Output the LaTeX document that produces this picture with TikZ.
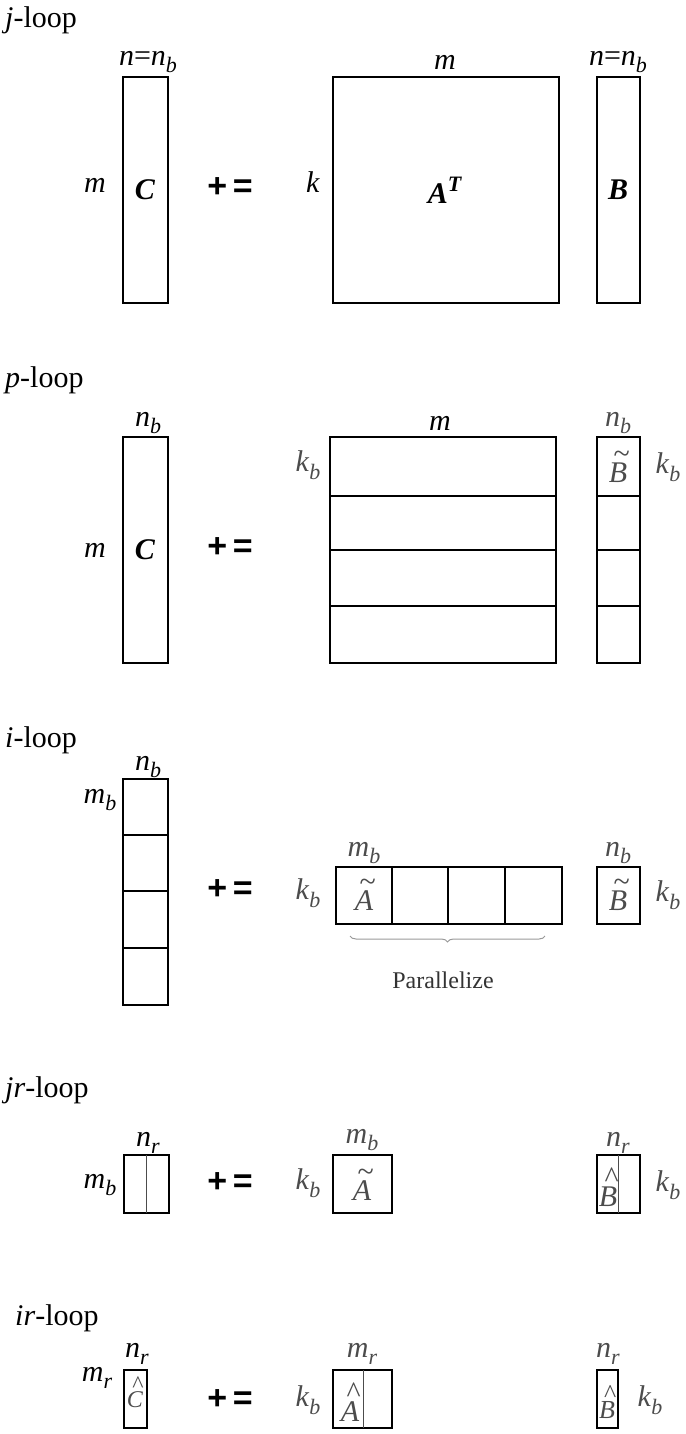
\documentclass[tikz,border=0pt]{standalone}
\usepackage{fontspec}
\setmainfont{Liberation Serif}
\newfontfamily\opfont{Liberation Sans}
\usetikzlibrary{decorations.pathreplacing}
\newcommand{\sbt}[2]{\textit{#1}\raisebox{-0.25em}{\fontsize{22}{22}\selectfont\textit{#2}}}
\newcommand{\myacc}[2]{\ooalign{\hidewidth\kern0.25em\raisebox{0.62em}{#1}\hidewidth\cr\textit{#2}\cr}}
\newcommand{\mytl}[1]{\myacc{\textasciitilde}{#1}}
\newcommand{\myhat}[1]{\myacc{\textasciicircum}{#1}}
\begin{document}
\begin{tikzpicture}[x=1pt,y=-1pt,
  box/.style={draw=black,line width=2pt,inner sep=0pt},
  thin/.style={draw=black!70,line width=0.8pt},
  lbl/.style={font=\fontsize{30}{34}\selectfont,inner sep=0pt},
  glbl/.style={lbl,text=black!70},
  ttl/.style={lbl,anchor=west},
  op/.style={font=\fontsize{34}{36}\selectfont\opfont\bfseries,inner sep=0pt}]
\useasboundingbox (0,0) rectangle (685,1434);
% j-loop
\node[ttl] (t1) at (5,20) {\textit{j}-loop};
\draw[box] (123,77) rectangle (168,303);
\node[lbl] (l1) at (148,62) {\textit{n}=\sbt{n}{b}};
\node[lbl] (l2) at (95,185) {\textit{m}};
\node[lbl] (c1) at (145,190) {\textbf{\textit{C}}};
\node[op] (o1) at (230,188) {+\,=};
\node[lbl] (l3) at (313,182) {\textit{k}};
\draw[box] (333,77) rectangle (559,303);
\node[lbl] (l4) at (445,62) {\textit{m}};
\node[lbl] (a1) at (445,190) {\textbf{\textit{A}}\raisebox{0.4em}{\fontsize{22}{22}\selectfont\textbf{\textit{T}}}};
\draw[box] (597,77) rectangle (640,303);
\node[lbl] (l5) at (618,62) {\textit{n}=\sbt{n}{b}};
\node[lbl] (b1) at (618,190) {\textbf{\textit{B}}};
% p-loop
\node[ttl] (t2) at (5,380) {\textit{p}-loop};
\draw[box] (123,437) rectangle (168,663);
\node[lbl] (l6) at (148,423) {\sbt{n}{b}};
\node[lbl] (l7) at (95,550) {\textit{m}};
\node[lbl] (c2) at (145,550) {\textbf{\textit{C}}};
\node[op] (o2) at (230,548) {+\,=};
\draw[box] (330,437) rectangle (556,663);
\foreach \yy in {496,550,606} \draw[box] (330,\yy) -- (556,\yy);
\node[lbl] (l8) at (440,423) {\textit{m}};
\node[glbl] (l9) at (308,465) {\sbt{k}{b}};
\draw[box] (597,437) rectangle (640,663);
\foreach \yy in {496,550,606} \draw[box] (597,\yy) -- (640,\yy);
\node[glbl] (l10) at (618,423) {\sbt{n}{b}};
\node[glbl] (b2) at (618,467) {\mytl{B}};
\node[glbl] (l11) at (668,467) {\sbt{k}{b}};
% i-loop
\node[ttl] (t3) at (5,740) {\textit{i}-loop};
\draw[box] (123,779) rectangle (168,1005);
\foreach \yy in {835,891,948} \draw[box] (123,\yy) -- (168,\yy);
\node[lbl] (l12) at (148,767) {\sbt{n}{b}};
\node[lbl] (l13) at (100,800) {\sbt{m}{b}};
\node[op] (o3) at (230,890) {+\,=};
\node[glbl] (l14) at (308,893) {\sbt{k}{b}};
\draw[box] (336,867) rectangle (562,924);
\foreach \xx in {392,448,505} \draw[box] (\xx,867) -- (\xx,924);
\node[glbl] (l15) at (364,853) {\sbt{m}{b}};
\node[glbl] (a3) at (364,895) {\mytl{A}};
\draw[draw=black!40,line width=1pt,decorate,decoration={brace,mirror,amplitude=6pt}] (350,936) -- (545,936);
\node[lbl,font=\fontsize{24}{28}\selectfont,text=black!80] (par) at (443,980) {Parallelize};
\draw[box] (597,867) rectangle (640,924);
\node[glbl] (l16) at (618,853) {\sbt{n}{b}};
\node[glbl] (b3) at (618,895) {\mytl{B}};
\node[glbl] (l17) at (668,895) {\sbt{k}{b}};
% jr-loop
\node[ttl] (t4) at (5,1090) {\textit{jr}-loop};
\draw[box] (124,1155) rectangle (169,1213);
\draw[thin] (146,1155) -- (146,1213);
\node[lbl] (l18) at (148,1143) {\sbt{n}{r}};
\node[lbl] (l19) at (100,1185) {\sbt{m}{b}};
\node[op] (o4) at (230,1183) {+\,=};
\node[glbl] (l20) at (308,1183) {\sbt{k}{b}};
\draw[box] (333,1155) rectangle (392,1213);
\node[glbl] (l21) at (362,1140) {\sbt{m}{b}};
\node[glbl] (a4) at (362,1185) {\mytl{A}};
\draw[box] (597,1155) rectangle (640,1213);
\draw[thin] (618,1155) -- (618,1213);
\node[glbl] (l22) at (618,1143) {\sbt{n}{r}};
\node[glbl] (b4) at (608,1187) {\myhat{B}};
\node[glbl] (l23) at (668,1185) {\sbt{k}{b}};
% ir-loop
\node[ttl] (t5) at (15,1318) {\textit{ir}-loop};
\draw[box] (124,1370) rectangle (147,1428);
\node[lbl] (l24) at (137,1354) {\sbt{n}{r}};
\node[lbl] (l25) at (97,1378) {\sbt{m}{r}};
\node[glbl,font=\fontsize{24}{28}\selectfont] (c5) at (135,1392) {\myhat{C}};
\node[op] (o5) at (230,1400) {+\,=};
\node[glbl] (l26) at (308,1400) {\sbt{k}{b}};
\draw[box] (333,1370) rectangle (392,1428);
\draw[thin] (363,1370) -- (363,1428);
\node[glbl] (l27) at (362,1354) {\sbt{m}{r}};
\node[glbl] (a5) at (350,1402) {\myhat{A}};
\draw[box] (597,1370) rectangle (618,1428);
\node[glbl] (l28) at (608,1354) {\sbt{n}{r}};
\node[glbl,font=\fontsize{26}{28}\selectfont] (b5) at (607,1402) {\myhat{B}};
\node[glbl] (l29) at (650,1400) {\sbt{k}{b}};
\end{tikzpicture}
\end{document}
